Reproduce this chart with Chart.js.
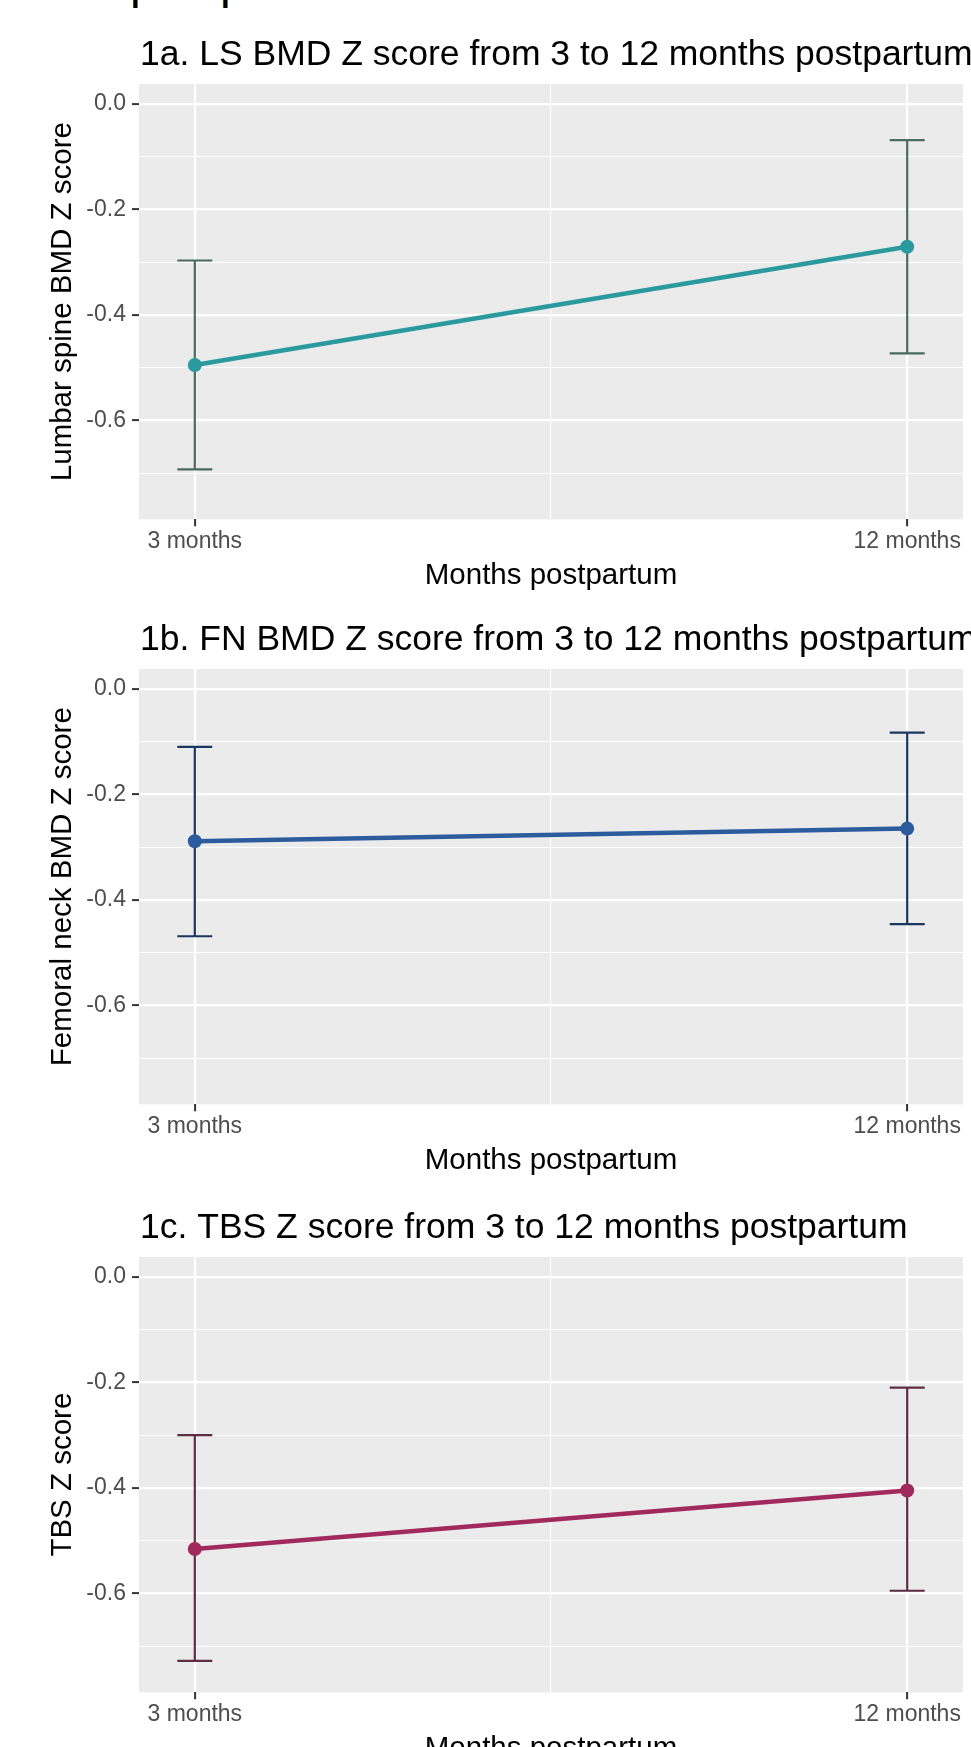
<!DOCTYPE html>
<html lang="en">
<head>
  <meta charset="UTF-8">
  <title>LS, FN and TBS Z scores from 3 to 12 months postpartum</title>
  <script src="https://cdn.jsdelivr.net/npm/chart.js"></script>
  <style>
    body {
      margin: 0;
      width: 971px;
      height: 1747px;
      overflow: hidden;
      position: relative;
      background: #ffffff;
      font-family: "Liberation Sans", Arial, sans-serif;
    }
    .panel {
      position: absolute;
      left: 0;
      width: 971px;
      height: 600px;
    }
    canvas { display: block; }
    /* bottom of a larger heading that is cut off by the top edge */
    .cut {
      position: absolute;
      top: -42px;
      font-size: 48px;
      line-height: 48px;
      color: #000;
    }
  </style>
</head>
<body>
  <div class="cut" style="left:130px">p</div>
  <div class="cut" style="left:220px">p</div>

  <div class="panel" style="top:0px"><canvas id="chartLS" width="971" height="600"></canvas></div>
  <div class="panel" style="top:585px"><canvas id="chartFN" width="971" height="600"></canvas></div>
  <div class="panel" style="top:1173px"><canvas id="chartTBS" width="971" height="600"></canvas></div>

  <script>
    // data
    var months = [3, 12];
    var monthLabels = ['3 months', '12 months'];
    var xGrid = [3, 7.5, 12];
    var yMajor = [0, -0.2, -0.4, -0.6];
    var yGrid = [0, -0.1, -0.2, -0.3, -0.4, -0.5, -0.6, -0.7];

    var lsMean = [-0.495, -0.271];
    var lsLower = [-0.693, -0.473];
    var lsUpper = [-0.297, -0.069];

    var fnMean = [-0.289, -0.265];
    var fnLower = [-0.469, -0.446];
    var fnUpper = [-0.110, -0.083];

    var tbsMean = [-0.516, -0.405];
    var tbsLower = [-0.728, -0.595];
    var tbsUpper = [-0.300, -0.210];

    Chart.defaults.font.family = '"Liberation Sans", Arial, sans-serif';

    // grey panel behind the grid
    var panelBackground = {
      id: 'panelBackground',
      beforeDraw: function (chart) {
        var a = chart.chartArea, ctx = chart.ctx;
        ctx.save();
        ctx.fillStyle = '#EBEBEB';
        ctx.fillRect(a.left, a.top, a.right - a.left, a.bottom - a.top);
        ctx.restore();
      }
    };

    function panelTitle(text) {
      return {
        id: 'panelTitle',
        afterDraw: function (chart) {
          var ctx = chart.ctx;
          ctx.save();
          ctx.fillStyle = '#000';
          ctx.font = '35.5px "Liberation Sans", Arial, sans-serif';
          ctx.textBaseline = 'alphabetic';
          ctx.textAlign = 'left';
          ctx.fillText(text, chart.chartArea.left + 1, 64.5);
          ctx.restore();
        }
      };
    }

    function errorBars(lower, upper, color) {
      return {
        id: 'errorBars',
        beforeDatasetsDraw: function (chart) {
          var xs = chart.scales.x, ys = chart.scales.y, ctx = chart.ctx;
          ctx.save();
          ctx.strokeStyle = color;
          ctx.lineWidth = 2.2;
          months.forEach(function (m, i) {
            var px = xs.getPixelForValue(m);
            var top = ys.getPixelForValue(upper[i]);
            var bot = ys.getPixelForValue(lower[i]);
            ctx.beginPath();
            ctx.moveTo(px, top); ctx.lineTo(px, bot);
            ctx.moveTo(px - 17.5, top); ctx.lineTo(px + 17.5, top);
            ctx.moveTo(px - 17.5, bot); ctx.lineTo(px + 17.5, bot);
            ctx.stroke();
          });
          ctx.restore();
        }
      };
    }

    function isMajorY(v) { return yMajor.indexOf(v) !== -1; }
    function isMajorX(v) { return months.indexOf(v) !== -1; }

    function buildPanel(id, title, yTitle, mean, lower, upper, lineColor, barColor) {
      return new Chart(document.getElementById(id), {
        type: 'line',
        data: {
          datasets: [{
            data: months.map(function (m, i) { return { x: m, y: mean[i] }; }),
            borderColor: lineColor,
            backgroundColor: lineColor,
            pointBackgroundColor: lineColor,
            borderWidth: 4.5,
            pointRadius: 7,
            pointHoverRadius: 7,
            pointBorderWidth: 0,
            tension: 0
          }]
        },
        options: {
          responsive: false,
          animation: false,
          events: [],
          layout: { padding: { left: 0, right: 8, top: 84, bottom: 6.6 } },
          plugins: {
            legend: { display: false },
            tooltip: { enabled: false }
          },
          scales: {
            x: {
              type: 'linear',
              min: 2.295,
              max: 12.705,
              afterBuildTicks: function (s) { s.ticks = xGrid.map(function (v) { return { value: v }; }); },
              afterFit: function (s) { s.height = 74.1; },
              border: { display: false },
              grid: {
                color: '#FFFFFF',
                lineWidth: function (c) { return isMajorX(c.tick.value) ? 2.2 : 1.1; },
                tickLength: 7,
                tickWidth: 2,
                tickColor: function (c) { return isMajorX(c.tick.value) ? '#333333' : 'rgba(0,0,0,0)'; }
              },
              ticks: {
                autoSkip: false,
                maxRotation: 0,
                padding: 1.5,
                color: '#4D4D4D',
                font: { size: 23 },
                callback: function (v) {
                  var i = months.indexOf(v);
                  return i === -1 ? '' : monthLabels[i];
                }
              },
              title: {
                display: true,
                text: 'Months postpartum',
                color: '#000',
                font: { size: 29.5 },
                padding: { top: 0, bottom: 0 }
              }
            },
            y: {
              min: -0.7875,
              max: 0.0375,
              afterBuildTicks: function (s) { s.ticks = yGrid.map(function (v) { return { value: v }; }); },
              afterFit: function (s) { s.width = 139; },
              border: { display: false },
              grid: {
                color: '#FFFFFF',
                lineWidth: function (c) { return isMajorY(c.tick.value) ? 2.2 : 1.1; },
                tickLength: 7,
                tickWidth: 2,
                tickColor: function (c) { return isMajorY(c.tick.value) ? '#333333' : 'rgba(0,0,0,0)'; }
              },
              ticks: {
                autoSkip: false,
                padding: 6,
                color: '#4D4D4D',
                font: { size: 23 },
                callback: function (v) { return isMajorY(v) ? v.toFixed(1) : ''; }
              },
              title: {
                display: true,
                text: yTitle,
                color: '#000',
                font: { size: 29.5 },
                padding: { top: 45.3, bottom: 0 }
              }
            }
          }
        },
        plugins: [panelBackground, panelTitle(title), errorBars(lower, upper, barColor)]
      });
    }

    buildPanel('chartLS', '1a. LS BMD Z score from 3 to 12 months postpartum',
      'Lumbar spine BMD Z score', lsMean, lsLower, lsUpper, '#2B9A9E', '#4A6B5F');
    buildPanel('chartFN', '1b. FN BMD Z score from 3 to 12 months postpartum',
      'Femoral neck BMD Z score', fnMean, fnLower, fnUpper, '#2D5C9E', '#1B365F');
    buildPanel('chartTBS', '1c. TBS Z score from 3 to 12 months postpartum',
      'TBS Z score', tbsMean, tbsLower, tbsUpper, '#A2295E', '#5E2D46');
  </script>
</body>
</html>
